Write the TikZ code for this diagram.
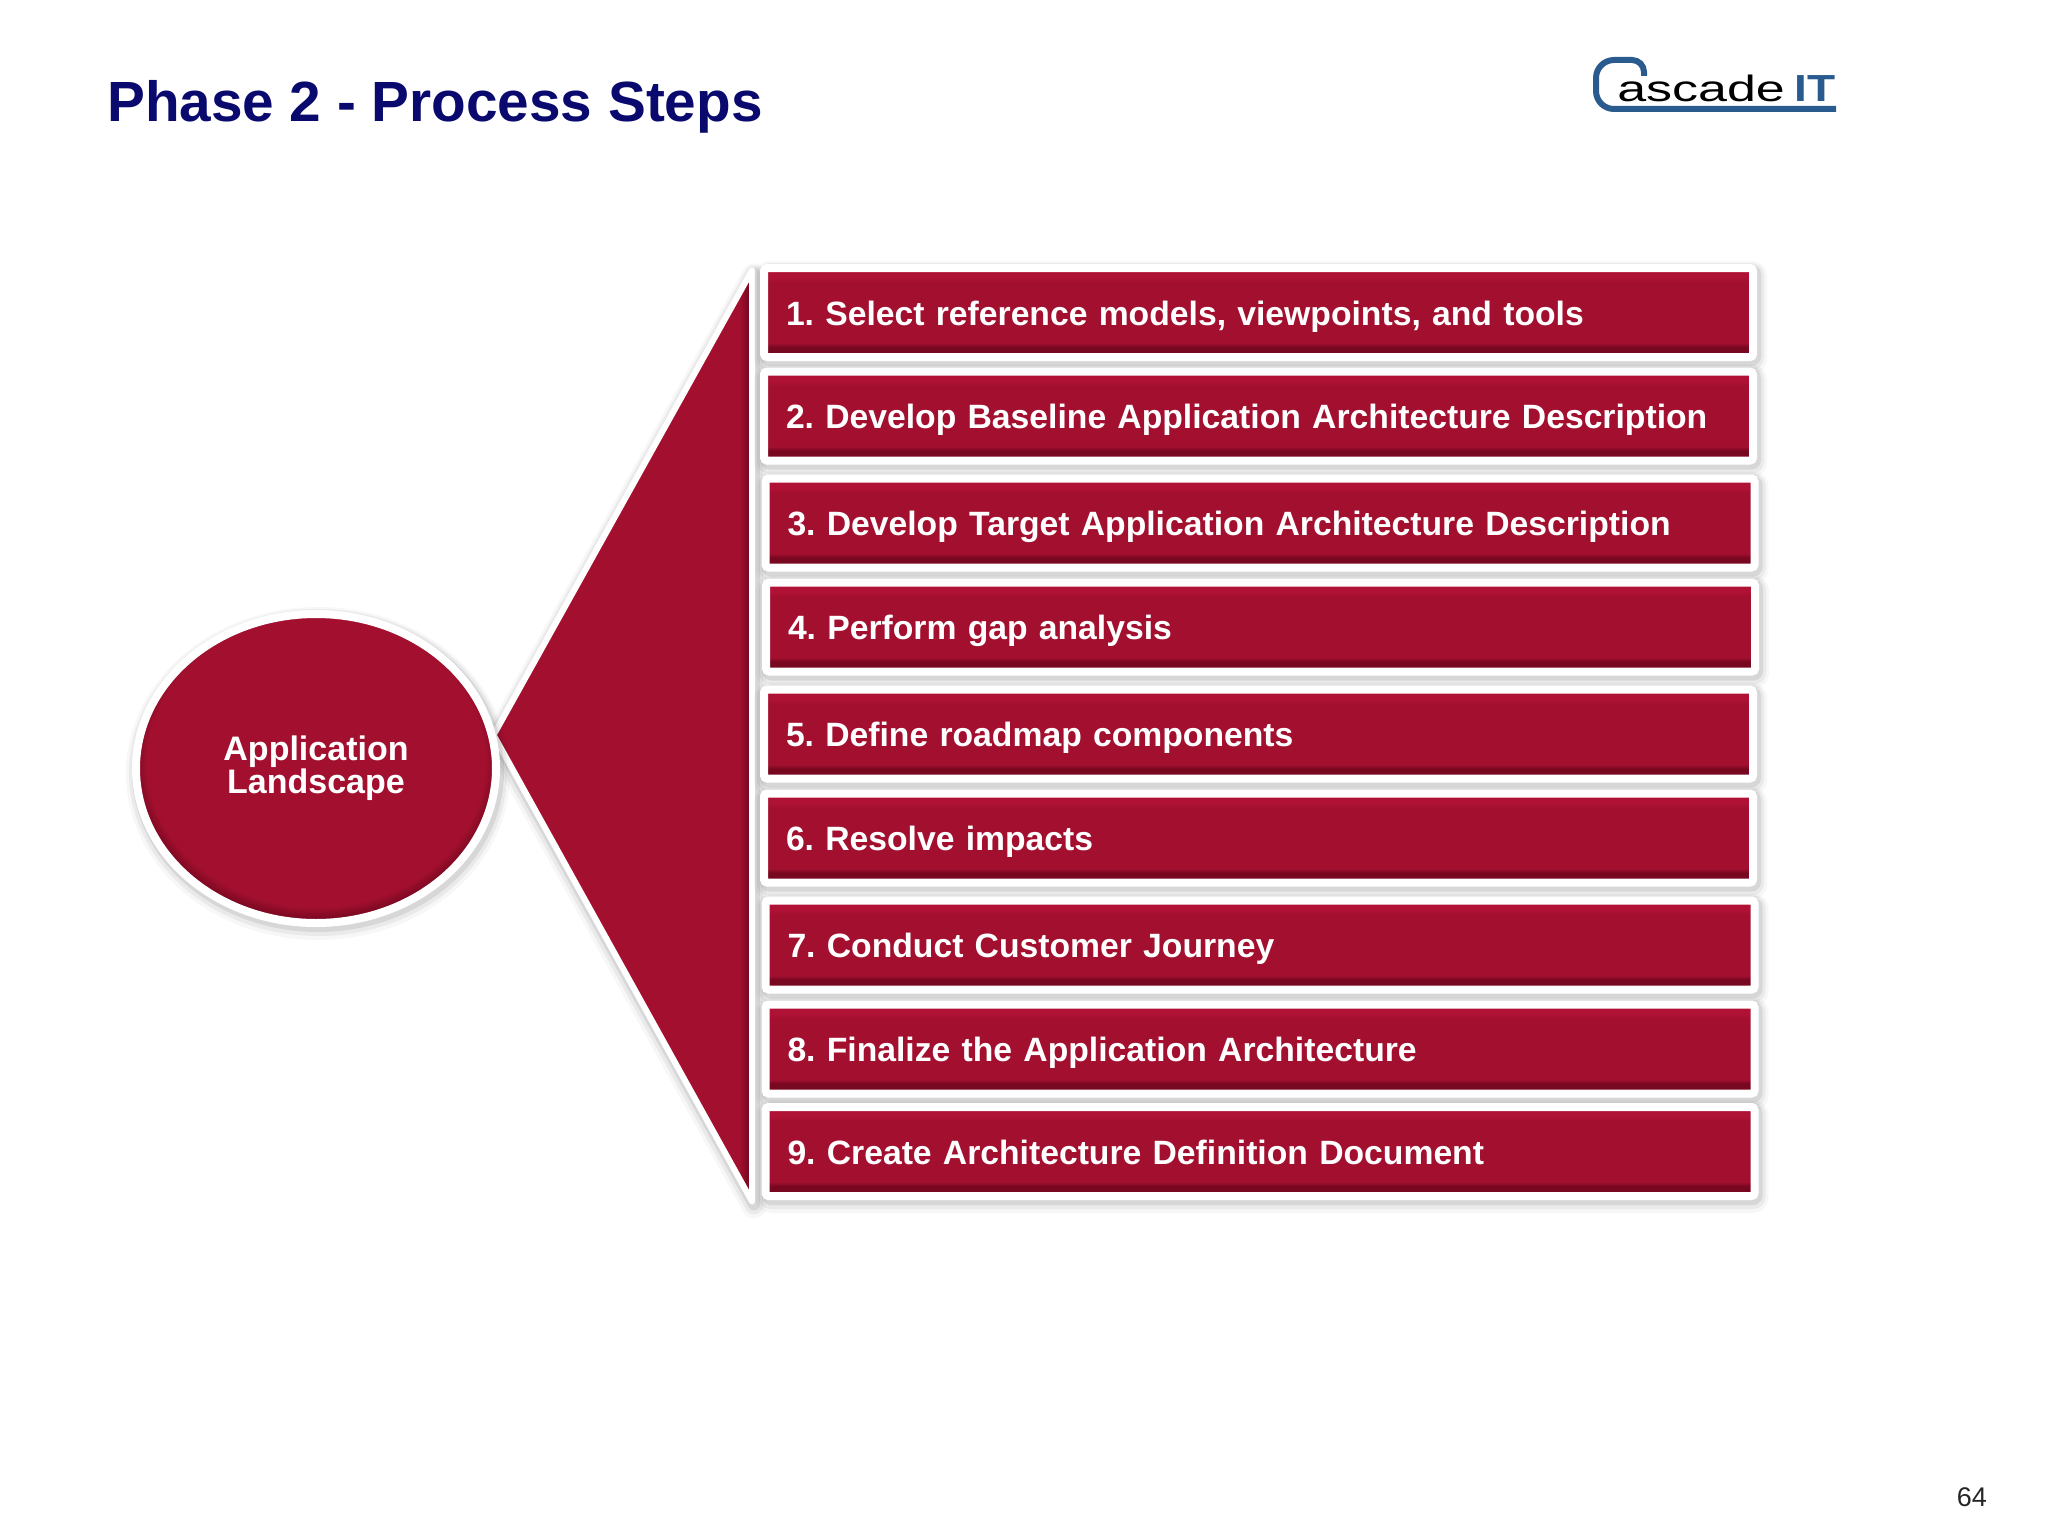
\documentclass[tikz,border=0pt]{standalone}
\usepackage{fontspec}
\setmainfont{Liberation Sans}
\usetikzlibrary{shapes.geometric}
\definecolor{navytitle}{HTML}{0A0A6E}
\definecolor{logoblue}{HTML}{2A5B8E}
\definecolor{redflat}{HTML}{A3102F}
\definecolor{redlight}{HTML}{B01235}
\definecolor{reddark}{HTML}{780720}
\pgfdeclareverticalshading{boxbevel}{100bp}{color(0bp)=(reddark);
    color(30.5bp)=(reddark); color(33bp)=(redflat);
    color(67bp)=(redflat); color(70bp)=(redlight); color(100bp)=(redlight)}
\pgfdeclareradialshading{discbevel}{\pgfpoint{0bp}{2bp}}{color(0bp)=(redflat);
    color(23.4bp)=(redflat); color(25.4bp)=(reddark); color(50bp)=(reddark)}
\pgfdeclarehorizontalshading{wedgebevel}{100bp}{color(0bp)=(redflat);
    color(72.5bp)=(redflat); color(74.3bp)=(reddark); color(100bp)=(reddark)}
\tikzstyle{softshadow}=[
    preaction={draw=black,draw opacity=.03,line width=24,line join=round,transform canvas={xshift=2,yshift=-5}},
    preaction={draw=black,draw opacity=.05,line width=18,line join=round,transform canvas={xshift=2,yshift=-4}},
    preaction={draw=black,draw opacity=.08,line width=12,line join=round,transform canvas={xshift=2,yshift=-3}}]
\tikzstyle{stepbox}=[softshadow,draw=white,line width=8,rounded corners=3,shading=boxbevel,
    anchor=west,outer sep=0,minimum width=989,minimum height=89,text width=945,inner xsep=22,inner ysep=0,
    text height=25,text depth=0,align=left,text=white,font=\bfseries\fontsize{33.7}{40}\selectfont\frenchspacing]
\tikzstyle{landscape}=[softshadow,draw=white,line width=8,shading=discbevel,ellipse,
    minimum width=360,minimum height=309,inner sep=0,align=center,text=white,
    font=\bfseries\fontsize{34}{33}\selectfont]
\tikzstyle{wedge}=[softshadow,draw=white,line width=6,line join=round,shading=wedgebevel]
\begin{document}
\begin{tikzpicture}[x=1pt,y=-1pt]
    \useasboundingbox (0,0) rectangle (2048,1536);
    \fill[white] (0,0) rectangle (2048,1536);
    \node[anchor=base west,inner sep=0,text=navytitle,font=\bfseries\fontsize{56.7}{60}\selectfont] (title) at (107,122) {Phase 2 - Process Steps};

    \draw[logoblue,line width=6,line cap=butt] (1644,76) -- (1644,72) arc (0:-90:12) -- (1614,60) arc (-90:-180:18) -- (1596,91) arc (180:90:18) -- (1836,109);
    \node[anchor=base west,inner sep=0,transform shape,xscale=1.42,font=\fontsize{36.6}{40}\selectfont] (logoname) at (1617,102) {ascade};
    \node[anchor=base west,inner sep=0,transform shape,xscale=1.22,text=logoblue,font=\bfseries\fontsize{37.7}{40}\selectfont] (logoit) at (1794,102) {IT};

    \coordinate (apex) at (493.6,735);
    \coordinate (wedgetop) at (752,270.4);
    \coordinate (wedgebottom) at (752,1201.4);
    \path[wedge] (apex) -- (wedgetop) -- (wedgebottom) -- cycle;

    \node[landscape] (land) at (316,768.5) {Application\\Landscape};

    \node[stepbox] (s1) at (764,312.5) {1. Select reference models, viewpoints, and tools};
    \node[stepbox] (s2) at (764,416) {2. Develop Baseline Application Architecture Description};
    \node[stepbox] (s3) at (765.5,523) {3. Develop Target Application Architecture Description};
    \node[stepbox] (s4) at (766,627) {4. Perform gap analysis};
    \node[stepbox] (s5) at (764,734) {5. Define roadmap components};
    \node[stepbox] (s6) at (764,838) {6. Resolve impacts};
    \node[stepbox] (s7) at (765.5,945) {7. Conduct Customer Journey};
    \node[stepbox] (s8) at (765.5,1049) {8. Finalize the Application Architecture};
    \node[stepbox] (s9) at (765.5,1151.5) {9. Create Architecture Definition Document};

    \node[anchor=base east,inner sep=0,text=black!85,font=\fontsize{27}{30}\selectfont] (pagenum) at (1987,1506) {64};
\end{tikzpicture}
\end{document}
